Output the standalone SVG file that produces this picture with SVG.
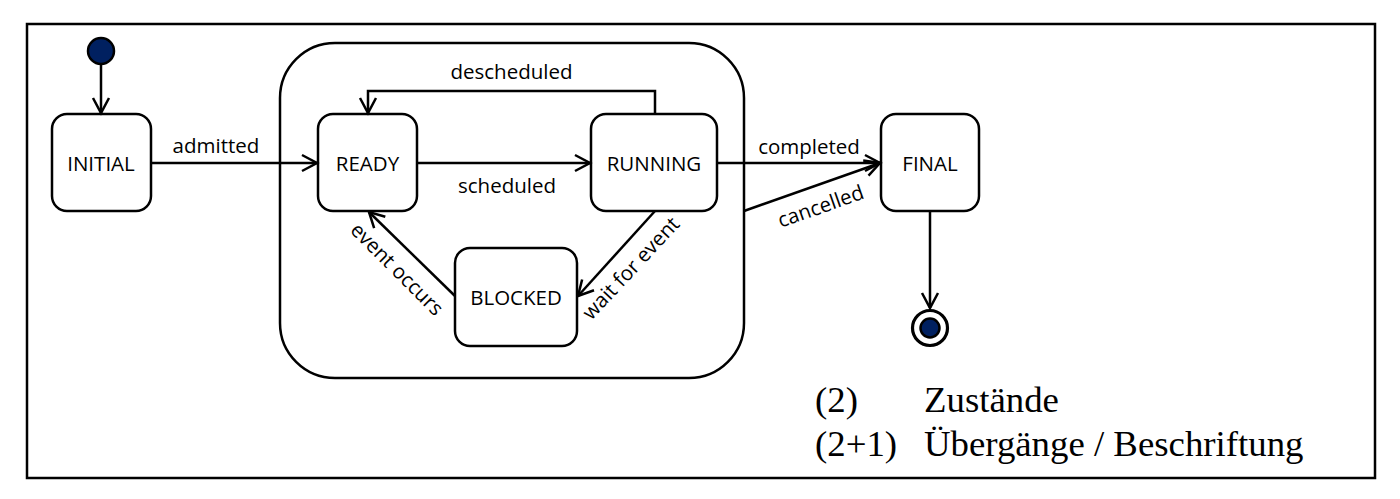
<svg xmlns="http://www.w3.org/2000/svg" width="1400" height="499" viewBox="0 0 1400 499">
<style>
.st{fill:#fff;stroke:#000;stroke-width:2.5}
.ln{fill:none;stroke:#000;stroke-width:2.5}
.nm{font-family:"Open Sans","Noto Sans",sans-serif;font-size:20.5px;fill:#000;text-anchor:middle}
.lg{font-family:"Liberation Serif","Times New Roman",serif;font-size:36.8px;fill:#000}
.dot{fill:#002060;stroke:#000;stroke-width:2.5}
</style>
<defs>
<marker id="arr" markerUnits="userSpaceOnUse" markerWidth="24" markerHeight="24" viewBox="-18 -12 24 24" refX="0" refY="0" orient="auto">
<path d="M -15 -8 L 0 0 L -15 8" fill="none" stroke="#000" stroke-width="2.5"/>
</marker>
</defs>
<rect width="1400" height="499" fill="#fff"/>
<rect id="frame" x="27" y="24" width="1348" height="454" fill="none" stroke="#000" stroke-width="2.5"/>

<g id="composite">
<rect x="280" y="43" width="464" height="335" rx="55" ry="55" class="ln"/>
</g>

<g id="start"><circle cx="101" cy="51" r="13" class="dot"/></g>
<g id="initial"><rect x="52" y="114" width="99" height="97" rx="15" class="st"/><text x="101" y="171" class="nm">INITIAL</text></g>
<g id="ready"><rect x="318" y="114" width="99" height="97" rx="15" class="st"/><text x="367.5" y="171" class="nm">READY</text></g>
<g id="running"><rect x="591" y="114" width="126" height="97" rx="15" class="st"/><text x="654" y="171" class="nm">RUNNING</text></g>
<g id="blocked"><rect x="455" y="248" width="122" height="98" rx="15" class="st"/><text x="516" y="305" class="nm">BLOCKED</text></g>
<g id="final"><rect x="881" y="114" width="98" height="97" rx="15" class="st"/><text x="930" y="171" class="nm">FINAL</text></g>
<g id="end"><circle cx="930" cy="328" r="17.5" fill="#fff" stroke="#000" stroke-width="3.2"/><circle cx="930" cy="328" r="9.5" class="dot" stroke-width="2"/></g>

<g id="connectors">
<path d="M101 64 V113" class="ln" marker-end="url(#arr)"/>
<path d="M151 163 H317" class="ln" marker-end="url(#arr)"/>
<path d="M417 163 H590" class="ln" marker-end="url(#arr)"/>
<path d="M655 114 V91 H368 V113" class="ln" marker-end="url(#arr)"/>
<path d="M717 163 H880" class="ln" marker-end="url(#arr)"/>
<path d="M744 211 L880 163" class="ln" marker-end="url(#arr)"/>
<path d="M655 211 L578 296" class="ln" marker-end="url(#arr)"/>
<path d="M455 296 L369 212" class="ln" marker-end="url(#arr)"/>
<path d="M930 211 V308" class="ln" marker-end="url(#arr)"/>
</g>

<g id="labels">
<text x="216" y="153" class="nm">admitted</text>
<text x="507" y="193" class="nm">scheduled</text>
<text x="511.5" y="79" class="nm">descheduled</text>
<text x="809" y="154" class="nm">completed</text>
<text transform="translate(823,213) rotate(-19.4)" class="nm">cancelled</text>
<text transform="translate(392,274) rotate(45)" class="nm">event occurs</text>
<text transform="translate(636,273) rotate(-47)" class="nm">wait for event</text>
</g>

<g id="legend">
<text x="815" y="412" class="lg">(2)</text>
<text x="924" y="412" class="lg">Zustände</text>
<text x="815" y="456" class="lg">(2+1)</text>
<text x="924" y="456" class="lg">Übergänge / Beschriftung</text>
</g>
</svg>
